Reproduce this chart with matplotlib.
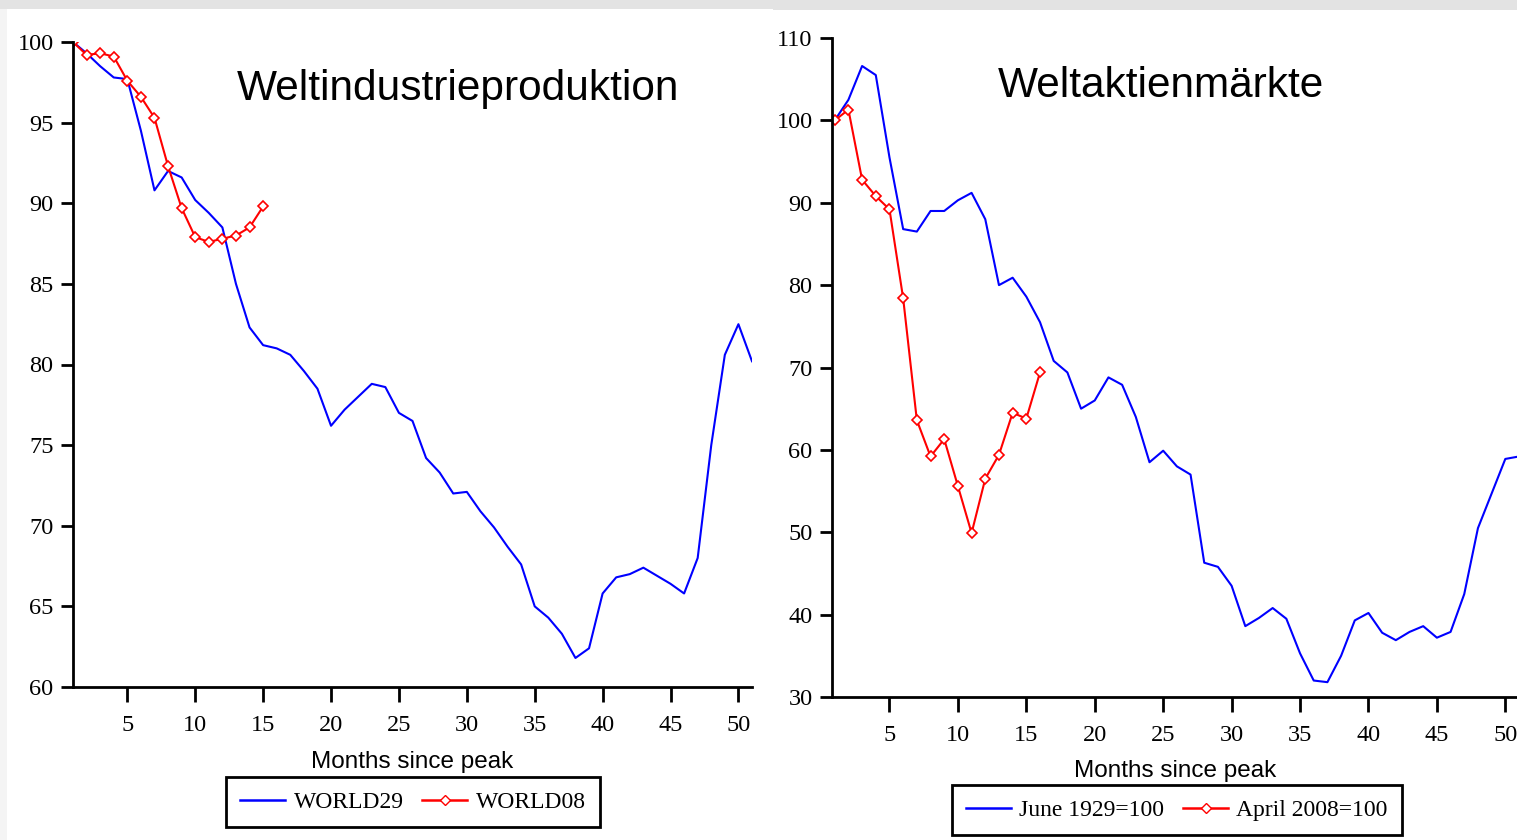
import matplotlib
matplotlib.use("Agg")
import matplotlib.pyplot as plt
from matplotlib.patches import Rectangle
from matplotlib.lines import Line2D

# ---------------- data ----------------
months_29 = list(range(1, 52))
world29 = [100, 99.3, 98.5, 97.8, 97.7, 94.5, 90.8, 92.0, 91.6, 90.2,
           89.4, 88.5, 85.0, 82.3, 81.2, 81.0, 80.6, 79.6, 78.5, 76.2,
           77.2, 78.0, 78.8, 78.6, 77.0, 76.5, 74.2, 73.3, 72.0, 72.1,
           70.9, 69.9, 68.7, 67.6, 65.0, 64.3, 63.3, 61.8, 62.4, 65.8,
           66.8, 67.0, 67.4, 66.9, 66.4, 65.8, 68.0, 75.0, 80.6, 82.5,
           80.2]
months_08 = list(range(1, 16))
world08 = [100, 99.2, 99.3, 99.1, 97.6, 96.6, 95.3, 92.3, 89.7, 87.9,
           87.6, 87.8, 88.0, 88.5, 89.8]

stock29 = [100, 102.5, 106.6, 105.5, 95.5, 86.8, 86.5, 89.0, 89.0, 90.3,
           91.2, 88.0, 80.0, 80.9, 78.6, 75.5, 70.8, 69.4, 65.0, 66.0,
           68.8, 67.9, 64.0, 58.5, 59.9, 58.0, 57.0, 46.3, 45.8, 43.5,
           38.6, 39.6, 40.8, 39.5, 35.3, 32.0, 31.8, 35.0, 39.3, 40.2,
           37.8, 36.9, 37.9, 38.6, 37.2, 37.9, 42.5, 50.5, 54.7, 58.9,
           59.2]
months_s08 = list(range(1, 17))
stock08 = [100, 101.3, 92.8, 90.8, 89.2, 78.4, 63.6, 59.2, 61.3, 55.6,
           49.9, 56.5, 59.4, 64.5, 63.8, 69.4]

left_yticks = [60, 65, 70, 75, 80, 85, 90, 95, 100]
right_yticks = [30, 40, 50, 60, 70, 80, 90, 100, 110]
xticks = [5, 10, 15, 20, 25, 30, 35, 40, 45, 50]

left_title = "Weltindustrieproduktion"
right_title = "Weltaktienmärkte"
xlabel = "Months since peak"
left_labels = ["WORLD29", "WORLD08"]
right_labels = ["June 1929=100", "April 2008=100"]

# ---------------- figure ----------------
W, H = 1517, 840
fig = plt.figure(figsize=(W / 100, H / 100), dpi=100)
fig.patch.set_facecolor("#e3e3e3")
fig.add_artist(Rectangle((7 / W, 0), (773 - 7) / W, 1 - 9 / H, transform=fig.transFigure,
                         facecolor="white", edgecolor="none", zorder=0))
fig.add_artist(Rectangle((773 / W, 0), (W - 773) / W, 1 - 10 / H, transform=fig.transFigure,
                         facecolor="white", edgecolor="none", zorder=0))
fig.add_artist(Rectangle((0, 0), 7 / W, 1 - 9 / H, transform=fig.transFigure,
                         facecolor="#f4f4f4", edgecolor="none", zorder=0))

TICK_FONT = "Liberation Serif"
SANS = "Liberation Sans"
BLUE = "#0000ff"
RED = "#ff0000"


def style_axes(ax, yticks):
    ax.set_facecolor("none")
    for s in ("top", "right"):
        ax.spines[s].set_visible(False)
    for s in ("left", "bottom"):
        ax.spines[s].set_linewidth(2)
        ax.spines[s].set_color("black")
    ax.set_xticks(xticks)
    ax.set_yticks(yticks)
    ax.tick_params(axis="y", direction="out", length=9, width=2, pad=5, labelsize=17.5)
    ax.tick_params(axis="x", direction="out", length=11, width=2, pad=9, labelsize=17.5)
    for lab in ax.get_xticklabels() + ax.get_yticklabels():
        lab.set_family(TICK_FONT)


def px_axes(x0, x1, ytop, ybot):
    return [x0 / W, 1 - ybot / H, (x1 - x0) / W, (ybot - ytop) / H]


# ---- left panel ----
axL = fig.add_axes(px_axes(73, 752, 42, 687))
axL.plot(months_29, world29, color=BLUE, lw=1.5)
axL.plot(months_08, world08, color=RED, lw=1.5, marker="D", markersize=5,
         markerfacecolor="white", markeredgecolor=RED, markeredgewidth=1.2)
axL.set_xlim(1, 51)
axL.set_ylim(60, 100)
style_axes(axL, left_yticks)
axL.set_xlabel(xlabel, fontsize=17.5, family=SANS, labelpad=11)

# ---- right panel ----
axR = fig.add_axes(px_axes(832, 1519, 38, 697))
axR.plot(months_29, stock29, color=BLUE, lw=1.5)
axR.plot(months_s08, stock08, color=RED, lw=1.5, marker="D", markersize=5,
         markerfacecolor="white", markeredgecolor=RED, markeredgewidth=1.2)
axR.set_xlim(0.8, 51)
axR.set_ylim(30, 110)
style_axes(axR, right_yticks)
axR.set_xlabel(xlabel, fontsize=17.5, family=SANS, labelpad=10)

# titles
fig.text(237 / W, 1 - 100 / H, left_title, fontsize=30.5, family=SANS,
         ha="left", va="baseline")
fig.text(998 / W, 1 - 97 / H, right_title, fontsize=30.5, family=SANS,
         ha="left", va="baseline")


def make_handles():
    return [Line2D([], [], color=BLUE, lw=1.8),
            Line2D([], [], color=RED, lw=1.8, marker="D", markersize=5,
                   markerfacecolor="white", markeredgecolor=RED)]


for labels, cx, cy in ((left_labels, 413, 802), (right_labels, 1177, 810)):
    leg = fig.legend(make_handles(), labels, loc="center",
                     bbox_to_anchor=(cx / W, 1 - cy / H), ncol=2,
                     frameon=True, fancybox=False, handlelength=1.9,
                     handletextpad=0.35, columnspacing=0.8, borderpad=0.6,
                     borderaxespad=0, prop={"family": TICK_FONT, "size": 17})
    fr = leg.get_frame()
    fr.set_edgecolor("black")
    fr.set_linewidth(2)
    fr.set_facecolor("white")
    fr.set_alpha(1)

fig.savefig("out.png", dpi=100, facecolor=fig.get_facecolor())
